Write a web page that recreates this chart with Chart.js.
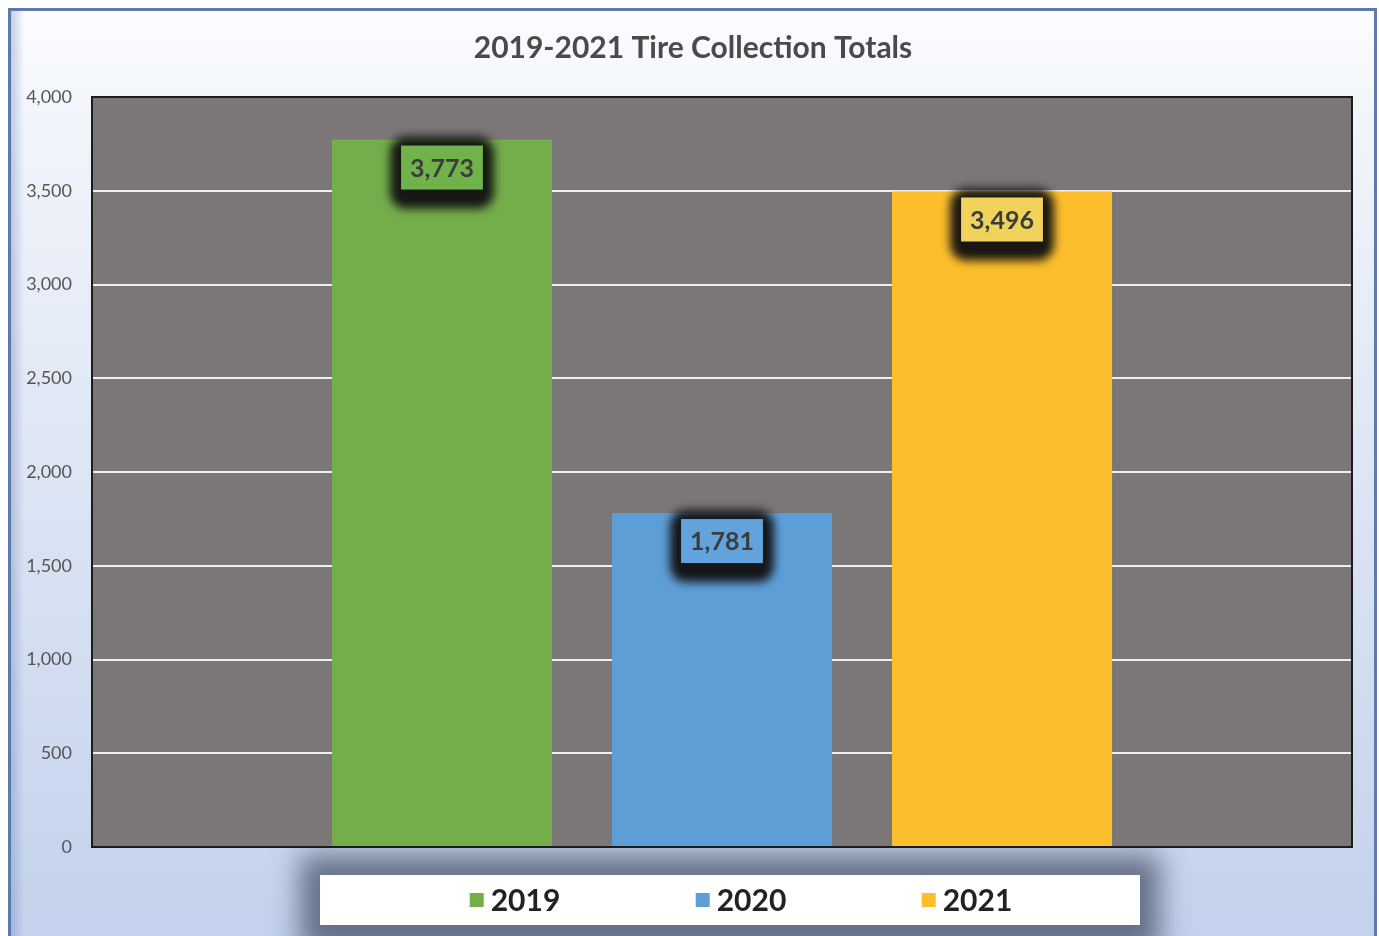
<!DOCTYPE html>
<html>
<head>
<meta charset="utf-8">
<title>2019-2021 Tire Collection Totals</title>
<script src="https://cdn.jsdelivr.net/npm/chart.js@4"></script>
<style>
  html, body { margin: 0; padding: 0; background: #fff; }
  #contenedor { width: 1379px; height: 936px; }
</style>
</head>
<body>
<div id="contenedor"><canvas id="graficoLlantas"></canvas></div>
<script>
// datos del gráfico
const anios = ['2019', '2020', '2021'];
const totales = [3773, 1781, 3496];
const marcasEje = [0, 500, 1000, 1500, 2000, 2500, 3000, 3500, 4000];
const titulo = '2019-2021 Tire Collection Totals';

// colores de barras y de las cajitas de etiqueta
const coloresBarra = ['#73ae4b', '#5e9ed6', '#fcbe2c'];
const coloresEtiqueta = ['#70b34b', '#62a2dd', '#f1d35b'];

const FUENTE = 'Lato, "Open Sans", sans-serif';

function cajaRedondeada(ctx, x, y, w, h, r) {
    ctx.beginPath();
    ctx.moveTo(x + r, y);
    ctx.arcTo(x + w, y, x + w, y + h, r);
    ctx.arcTo(x + w, y + h, x, y + h, r);
    ctx.arcTo(x, y + h, x, y, r);
    ctx.arcTo(x, y, x + w, y, r);
    ctx.closePath();
}

//* fondo degradado, marco, título, caja de la leyenda y fondo del área de trazado
const fondo = {
    id: 'fondo',
    beforeDraw(chart) {
        const { ctx, width, height, chartArea: a } = chart;
        ctx.save();
        ctx.fillStyle = '#ffffff';
        ctx.fillRect(0, 0, width, height);

        const g = ctx.createLinearGradient(0, 9, 0, height);
        g.addColorStop(0, '#fbfcfe');
        g.addColorStop(0.12, '#f1f5fb');
        g.addColorStop(1, '#c3d1ec');
        ctx.fillStyle = g;
        ctx.fillRect(9, 9, width - 12, height);

        // borde izquierdo un poco más oscuro
        const gl = ctx.createLinearGradient(9, 0, 24, 0);
        gl.addColorStop(0, 'rgba(110, 135, 185, 0.45)');
        gl.addColorStop(1, 'rgba(110, 135, 185, 0)');
        ctx.fillStyle = gl;
        ctx.fillRect(9, 9, 15, height);

        ctx.strokeStyle = '#5d7aae';
        ctx.lineWidth = 3;
        ctx.strokeRect(9.5, 9.5, width - 13, height + 10);

        // título
        ctx.fillStyle = '#4a4a4a';
        ctx.font = 'bold 30px ' + FUENTE;
        ctx.textAlign = 'center';
        ctx.textBaseline = 'middle';
        ctx.fillText(titulo, (a.left + a.right) / 2 - 29, 48);

        // sombra difusa y caja blanca de la leyenda
        const cx = (a.left + a.right) / 2 + 8;
        ctx.save();
        ctx.filter = 'blur(14px)';
        ctx.fillStyle = 'rgba(95, 105, 130, 0.95)';
        ctx.fillRect(cx - 430, a.bottom + 8, 860, 100);
        ctx.restore();
        ctx.fillStyle = '#ffffff';
        ctx.fillRect(cx - 410, a.bottom + 28, 820, 50);

        ctx.fillStyle = '#7b7677';
        ctx.fillRect(a.left, a.top, a.right - a.left, a.bottom - a.top);
        ctx.restore();
    }
};

//* borde negro del área de trazado y leyenda
const bordeYLeyenda = {
    id: 'bordeYLeyenda',
    afterDatasetsDraw(chart) {
        const { ctx, chartArea: a } = chart;
        ctx.save();
        ctx.strokeStyle = '#1c1c1c';
        ctx.lineWidth = 2;
        ctx.strokeRect(a.left, a.top, a.right - a.left, a.bottom - a.top);
        ctx.restore();
    },
    afterDraw(chart) {
        const { ctx, chartArea: a } = chart;
        const cx = (a.left + a.right) / 2 + 19;
        const cy = a.bottom + 53;
        const paso = 226;
        ctx.save();
        ctx.font = 'bold 30px ' + FUENTE;
        ctx.textBaseline = 'middle';
        const n = chart.data.datasets.length;
        chart.data.datasets.forEach((ds, i) => {
            const ancho = 14 + 7 + ctx.measureText(ds.label).width;
            const x0 = cx + (i - (n - 1) / 2) * paso - ancho / 2;
            ctx.fillStyle = ds.backgroundColor;
            ctx.fillRect(x0, cy - 7, 14, 14);
            ctx.fillStyle = '#222222';
            ctx.fillText(ds.label, x0 + 21, cy + 1);
        });
        ctx.restore();
    }
};

//* etiquetas de valor con caja y halo oscuro
const etiquetas = {
    id: 'etiquetas',
    afterDraw(chart) {
        const { ctx } = chart;
        ctx.save();
        ctx.font = 'bold 25px ' + FUENTE;
        ctx.textAlign = 'center';
        ctx.textBaseline = 'middle';
        chart.data.datasets.forEach((ds, i) => {
            const barra = chart.getDatasetMeta(i).data[0];
            const texto = ds.data[0].toLocaleString('en-US');
            const w = ctx.measureText(texto).width + 18;
            const h = 44;
            const x = barra.x - w / 2;
            const y = barra.y + 6;

            ctx.save();
            ctx.filter = 'blur(5px)';
            ctx.fillStyle = 'rgba(18, 18, 18, 0.97)';
            cajaRedondeada(ctx, x - 11, y - 9, w + 22, h + 28, 16);
            ctx.fill();
            ctx.restore();

            ctx.fillStyle = coloresEtiqueta[i];
            ctx.fillRect(x, y, w, h);
            ctx.fillStyle = '#3c3c3c';
            ctx.fillText(texto, barra.x, y + h / 2 + 1);
        });
        ctx.restore();
    }
};

const lienzo = document.getElementById('graficoLlantas').getContext('2d');

new Chart(lienzo, {
    type: 'bar',
    data: {
        labels: [''],
        datasets: anios.map((anio, i) => ({
            label: anio,
            data: [totales[i]],
            backgroundColor: coloresBarra[i],
            borderWidth: 0,
            categoryPercentage: 0.6667,
            barPercentage: 0.786
        }))
    },
    options: {
        responsive: true,
        maintainAspectRatio: false,
        animation: false,
        layout: { padding: { left: 0, right: 27, top: 97, bottom: 89 } },
        plugins: {
            legend: { display: false },
            tooltip: { enabled: false },
            title: { display: false }
        },
        scales: {
            x: { display: false },
            y: {
                min: 0,
                max: 4000,
                afterBuildTicks: escala => {
                    escala.ticks = marcasEje.map(v => ({ value: v }));
                },
                afterFit: escala => { escala.width = 92; },
                border: { display: false },
                grid: { color: '#efefef', lineWidth: 2, drawTicks: false },
                ticks: {
                    padding: 20,
                    color: '#555555',
                    font: { family: FUENTE, size: 18 },
                    callback: v => v.toLocaleString('en-US')
                }
            }
        }
    },
    plugins: [fondo, bordeYLeyenda, etiquetas]
});
</script>
</body>
</html>
